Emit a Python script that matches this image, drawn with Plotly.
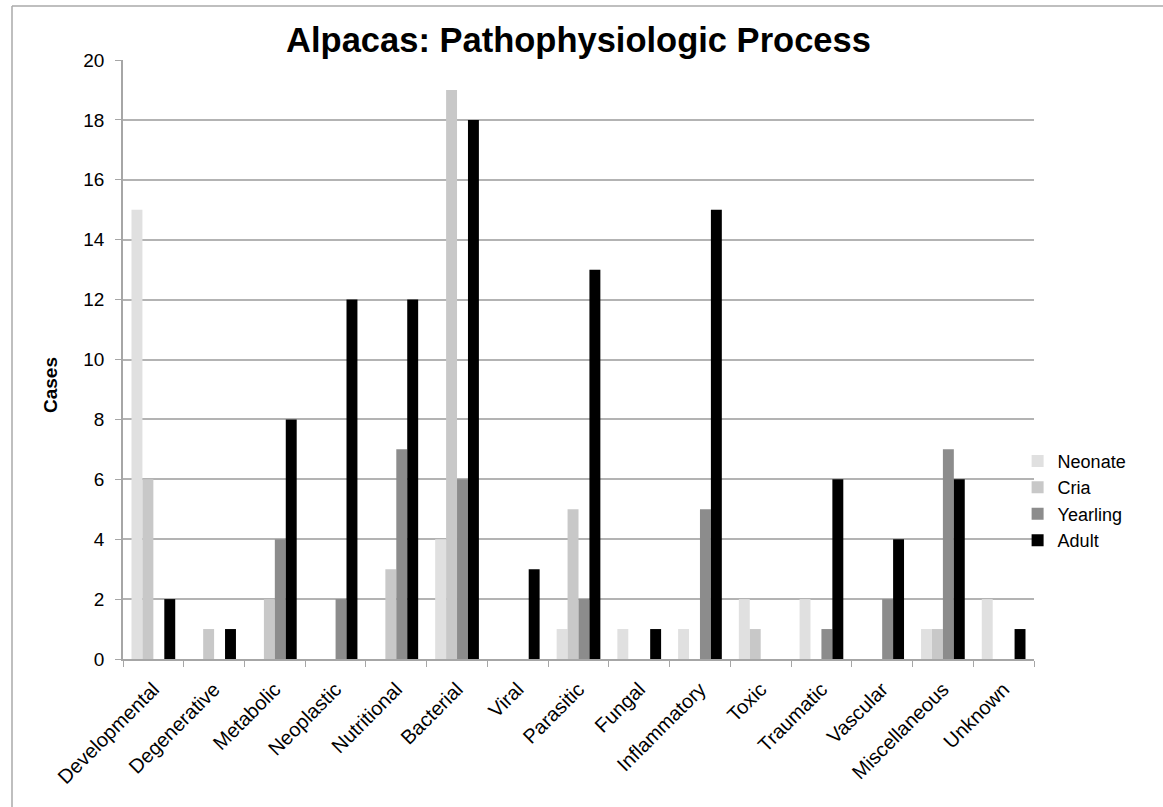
import plotly.graph_objects as go

categories = ["Developmental", "Degenerative", "Metabolic", "Neoplastic", "Nutritional",
              "Bacterial", "Viral", "Parasitic", "Fungal", "Inflammatory", "Toxic",
              "Traumatic", "Vascular", "Miscellaneous", "Unknown"]
neonate  = [15, 0, 0, 0, 0, 4, 0, 1, 1, 1, 2, 2, 0, 1, 2]
cria     = [6, 1, 2, 0, 3, 19, 0, 5, 0, 0, 1, 0, 0, 1, 0]
yearling = [0, 0, 4, 2, 7, 6, 0, 2, 0, 5, 0, 1, 2, 7, 0]
adult    = [2, 1, 8, 12, 12, 18, 3, 13, 1, 15, 0, 6, 4, 6, 1]
y_ticks = [0, 2, 4, 6, 8, 10, 12, 14, 16, 18, 20]

series = [("Neonate", neonate, "#e0e0e0"),
          ("Cria", cria, "#c8c8c8"),
          ("Yearling", yearling, "#8c8c8c"),
          ("Adult", adult, "#000000")]

font = "Liberation Sans, Arial, sans-serif"
fig = go.Figure()
for name, vals, col in series:
    fig.add_trace(go.Bar(name=name, x=categories, y=vals, marker_color=col,
                         marker_line_width=0))

fig.update_layout(
    width=1163, height=807,
    margin=dict(l=123, r=129, t=60, b=148),
    paper_bgcolor="white", plot_bgcolor="white",
    barmode="group", bargap=0.28, bargroupgap=0,
    font=dict(family=font, size=18, color="black"),
    title=dict(text="<b>Alpacas: Pathophysiologic Process</b>", x=0.5, xref="paper",
               xanchor="center", y=1 - 40 / 807, yanchor="middle",
               font=dict(size=34.5, family=font, color="black")),
    legend=dict(x=0.982, y=0.361, xanchor="left", yanchor="top",
                font=dict(size=18, family=font), tracegroupgap=0,
                itemwidth=30, bgcolor="rgba(0,0,0,0)"),
    showlegend=True,
)
fig.update_xaxes(showline=True, linecolor="#a6a6a6", linewidth=1.5,
                 ticks="outside", tickson="boundaries", ticklen=6, tickcolor="#a6a6a6",
                 tickangle=-45, tickfont=dict(size=20, family=font),
                 ticklabelstandoff=9, showgrid=False)
fig.update_yaxes(range=[0, 20], tickvals=y_ticks, showline=True, linecolor="#a6a6a6",
                 linewidth=1.5, ticks="outside", ticklen=6, tickcolor="#a6a6a6",
                 showgrid=True, gridcolor="#b3b3b3", gridwidth=1.5, zeroline=False,
                 tickfont=dict(size=19, family=font), ticklabelstandoff=7)

fig.add_annotation(text="<b>Cases</b>", xref="paper", yref="paper",
                   x=(50 - 123) / 911, y=(659 - 385) / 599, xanchor="center",
                   yanchor="middle", textangle=-90, showarrow=False,
                   font=dict(size=19, family=font, color="black"))

# outer frame (top and left edges visible)
fig.add_shape(type="line", xref="paper", yref="paper",
              x0=(12 - 123) / 911, x1=(1170 - 123) / 911,
              y0=1 + (60 - 6) / 599, y1=1 + (60 - 6) / 599,
              line=dict(color="#aaaaaa", width=1.5))
fig.add_shape(type="line", xref="paper", yref="paper",
              x0=(12 - 123) / 911, x1=(12 - 123) / 911,
              y0=1 + (60 - 6) / 599, y1=(659 - 815) / 599,
              line=dict(color="#aaaaaa", width=1.5))

fig.write_html("out.html")
